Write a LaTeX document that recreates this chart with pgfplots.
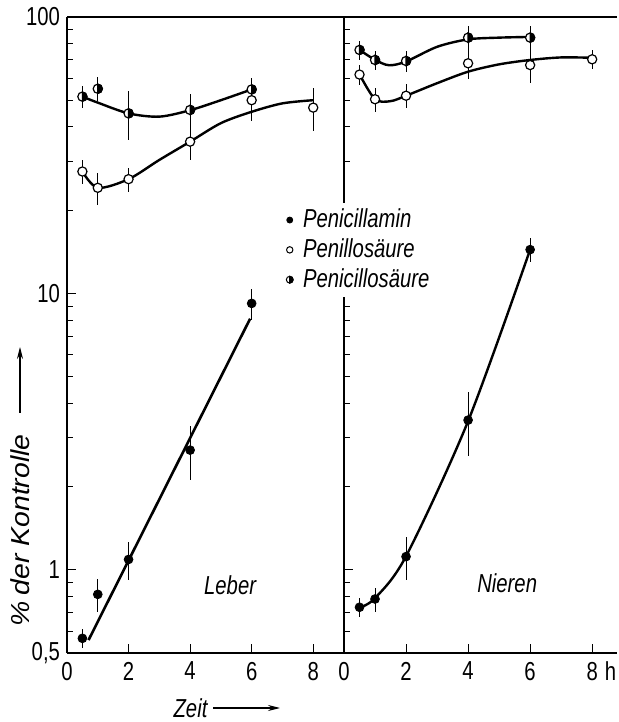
\documentclass[border=0pt]{standalone}
\usepackage{fontspec}
\setmainfont{Liberation Sans}[FakeStretch=0.78]
\usepackage{pgfplots}
\pgfplotsset{compat=1.18}
\usetikzlibrary{arrows.meta}

\pgfdeclareplotmark{halfcirc}{%
  \pgfpathcircle{\pgfpointorigin}{\pgfplotmarksize}%
  \pgfsetfillcolor{white}\pgfusepathqfillstroke
  \pgfpathmoveto{\pgfqpoint{0pt}{\pgfplotmarksize}}%
  \pgfpatharc{90}{-90}{\pgfplotmarksize}%
  \pgfpathclose
  \pgfsetfillcolor{black}\pgfusepathqfillstroke
}

\pgfplotsset{
  mycurve/.style={smooth, line width=1.2pt, black, no marks, forget plot},
  myfill/.style={only marks, mark=*, mark size=2.2pt, black, forget plot,
    error bars/.cd, y dir=both, y explicit relative, error mark=none},
  myopen/.style={only marks, mark=*, mark size=2.3pt, black, mark options={fill=white, line width=0.6pt}, forget plot,
    error bars/.cd, y dir=both, y explicit relative, error mark=none},
  myhalf/.style={only marks, mark=halfcirc, mark size=2.3pt, black, mark options={line width=0.6pt}, forget plot,
    error bars/.cd, y dir=both, y explicit relative, error mark=none},
}

\begin{document}
\begin{tikzpicture}
% ---------------- Leber ----------------
\begin{axis}[at={(33.5pt,34.5pt)}, anchor=south west,
  scale only axis, height=318pt, width=138.5pt, xmin=0, xmax=9,
  ymode=log, ymin=0.5, ymax=100,
  axis x line*=box, axis y line*=left,
  axis line style={-, line width=0.6pt},
  tick align=inside, xtick pos=left, ytick pos=left,
  xtick={0,2,4,6,8},
  ytick={0.5,1,10,100},
  minor ytick={0.6,0.7,0.8,0.9,2,3,4,5,6,7,8,9,20,30,40,50,60,70,80,90},
  major tick length=4.5pt, minor tick length=3pt,
  tick style={line width=0.5pt, black},
  /pgf/number format/assume math mode=true,
  ticklabel style={font=\fontsize{13}{15}\selectfont},
  xticklabel style={yshift=-1pt},
  clip=false,
  xticklabels={0,2,4,6,8},
  yticklabels={0{,}5,1,10,100}]
\addplot[mycurve] coordinates {(0.5,51.5)(1,49)(2,44.8)(3,43.6)(4,46)(5,50)(6,54.7)};
\addplot[mycurve] coordinates {(0.5,27.6)(1,24.1)(2,25.9)(3,30.4)(4,35.4)(5,41.3)(6,45.4)(7,48.7)(8,50)};
\addplot[line width=1.3pt, black, no marks, forget plot] coordinates {(0.7,0.557)(5.95,8.1)};
\addplot[myopen] coordinates {(0.5,27.6) +- (0,0.1) (1,24.1) +- (0,0.13) (2,25.9) +- (0,0.1) (4,35.4) +- (0,0.14) (6,50) +- (0,0.16) (8,47) +- (0,0.18)};
\addplot[myhalf] coordinates {(0.5,51.5) +- (0,0.09) (1,55) +- (0,0.1) (2,44.8) +- (0,0.2) (4,46.1) +- (0,0.14) (6,54.7) +- (0,0.1)};
\addplot[myfill] coordinates {(0.5,0.565) +- (0,0.08) (1,0.815) +- (0,0.14) (2,1.09) +- (0,0.16) (4,2.71) +- (0,0.22) (6,9.2) +- (0,0.13)};
\node[font=\itshape\fontsize{13}{15}\selectfont] at (axis cs:5.3,0.881) {Leber};
\end{axis}
% ---------------- Nieren ----------------
\begin{axis}[at={(172pt,34.5pt)}, anchor=south west,
  scale only axis, height=318pt, width=136.5pt, xmin=0, xmax=8.8,
  ymode=log, ymin=0.5, ymax=100,
  axis x line*=box, axis y line*=left,
  axis line style={-, line width=0.6pt},
  tick align=inside, xtick pos=left, ytick pos=left,
  xtick={0,2,4,6,8},
  ytick={0.5,1,10,100},
  minor ytick={0.6,0.7,0.8,0.9,2,3,4,5,6,7,8,9,20,30,40,50,60,70,80,90},
  major tick length=4.5pt, minor tick length=3pt,
  tick style={line width=0.5pt, black},
  /pgf/number format/assume math mode=true,
  ticklabel style={font=\fontsize{13}{15}\selectfont},
  xticklabel style={yshift=-1pt},
  clip=false,
  xticklabels={0,2,4,6,{8\rlap{\hspace{3.5pt}h}}},
  yticklabels={},
  legend style={at={(axis description cs:-0.22,0.708)}, anchor=north west,
    fill=white, draw=none, inner sep=1pt, row sep=0pt,
    font=\itshape\fontsize{13}{15}\selectfont,
    /tikz/every odd column/.style={column sep=3pt}},
  legend image code/.code={\draw[#1] plot coordinates {(0pt,0pt)};},
  legend cell align=left]
\addlegendimage{only marks, mark=*, mark size=1.5pt, black}
\addlegendentry{Penicillamin}
\addlegendimage{only marks, mark=*, mark size=1.6pt, black, mark options={fill=white, line width=0.5pt}}
\addlegendentry{Penillosäure}
\addlegendimage{only marks, mark=halfcirc, mark size=1.7pt, black, mark options={line width=0.5pt}}
\addlegendentry{Penicillosäure}
\addplot[mycurve] coordinates {(0.5,76)(1,70)(1.45,66.9)(2,69)(3,78)(4,83)(5,84.2)(6,84.7)};
\addplot[mycurve] coordinates {(0.5,62)(1,50.4)(1.5,49.6)(2,51.9)(3,57.6)(4,63.4)(5,67.4)(6,69.9)(7,71.4)(8,71.2)};
\addplot[mycurve] coordinates {(0.5,0.73)(1,0.79)(2,1.12)(4,3.45)(6,14.4)};
\addplot[myopen] coordinates {(0.5,61.9) +- (0,0.08) (1,50.4) +- (0,0.1) (2,51.9) +- (0,0.1) (4,68) +- (0,0.12) (6,67) +- (0,0.14) (8,70.3) +- (0,0.08)};
\addplot[myhalf] coordinates {(0.5,76) +- (0,0.08) (1,69.9) +- (0,0.08) (2,69.3) +- (0,0.09) (4,84.2) +- (0,0.1) (6,84.2) +- (0,0.1)};
\addplot[myfill] coordinates {(0.5,0.732) +- (0,0.08) (1,0.784) +- (0,0.1) (2,1.116) +- (0,0.18) (4,3.48) +- (0,0.26) (6,14.4) +- (0,0.1)};
\node[font=\itshape\fontsize{13}{15}\selectfont] at (axis cs:5.26,0.896) {Nieren};
\end{axis}
% axis titles
\node[rotate=90, anchor=center, inner sep=0pt, font=\itshape\fontsize{13}{15}\selectfont] at (10pt,95.75pt) {\scalebox{1.4}[1]{\%\,der Kontrolle}};
\draw[-{Stealth[length=6pt,width=3pt]}, line width=0.6pt] (10pt,154.5pt) -- (10pt,187.5pt);
\node[anchor=center, inner sep=0pt, font=\itshape\fontsize{13}{15}\selectfont] at (95.25pt,7pt) {Zeit};
\draw[-{Stealth[length=6pt,width=3pt]}, line width=0.6pt] (106.5pt,7pt) -- (140pt,7pt);
\pgfresetboundingbox
\path (0pt,0pt) rectangle (309pt,361pt);
\end{tikzpicture}
\end{document}
